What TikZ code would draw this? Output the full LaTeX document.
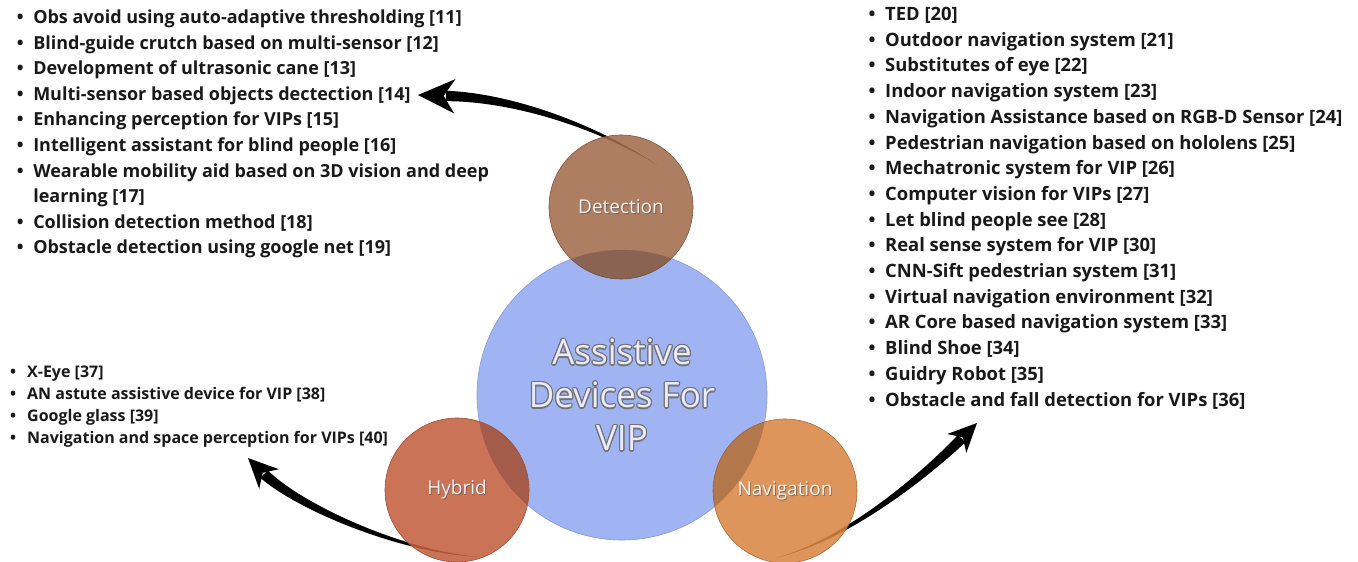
\documentclass[tikz,border=0pt]{standalone}
\usepackage{fontspec}
\setmainfont{Open Sans}
\usetikzlibrary{calc}
\definecolor{maincol}{RGB}{160,180,244}
\definecolor{detcol}{RGB}{163,108,76}
\definecolor{hybcol}{RGB}{196,96,64}
\definecolor{navcol}{RGB}{216,134,68}
\definecolor{txtcol}{RGB}{25,25,25}
\tikzset{
  listbox/.style={anchor=north west, inner sep=0pt, text=txtcol, font=\bfseries},
  smallcirc/.style={circle, minimum size=144pt, inner sep=0pt, draw=#1!80!black, line width=0.6pt, fill=#1, fill opacity=0.88},
  lbl/.style={text=white!90!gray, font=\fontsize{19}{21}\selectfont},
  lblshadow/.style={text=black!70, font=\fontsize{19}{21}\selectfont, opacity=0.6},
  maintxt/.style={align=center, font=\fontsize{35}{43}\selectfont},
  tapered/.style={fill=black}
}
\newcommand{\tarrow}[5]{%
  \fill[tapered] (#1) .. controls ($(#2)!1.7pt!90:(#3)$) and ($(#3)!4pt!90:(#4)$) .. ($(#4)!5.2pt!90:(#5)$)
     -- ($(#4)!5.2pt!-90:(#5)$) .. controls ($(#3)!4pt!-90:(#4)$) and ($(#2)!1.7pt!-90:(#3)$) .. (#1) -- cycle;
  \fill[tapered] (#5) -- ($(#5)!1.45!25:(#4)$) -- ($(#5)!0.92!(#4)$) -- ($(#5)!1.45!-25:(#4)$) -- cycle;
}
\begin{document}
\begin{tikzpicture}[x=1pt,y=-1pt]
\useasboundingbox (0,0) rectangle (1358,562);
% arrow coordinates
\coordinate (dT) at (657,165); \coordinate (dA) at (595,125); \coordinate (dB) at (510,97);
\coordinate (dE) at (446,96); \coordinate (dP) at (418,95);
\coordinate (hT) at (480,557); \coordinate (hA) at (400,552); \coordinate (hB) at (298,506);
\coordinate (hE) at (264,474); \coordinate (hP) at (248,458);
\coordinate (nT) at (775,558); \coordinate (nA) at (850,540); \coordinate (nB) at (933.6,467);
\coordinate (nE) at (961.6,438.6); \coordinate (nP) at (977,423);
\tarrow{dT}{dA}{dB}{dE}{dP}
\tarrow{hT}{hA}{hB}{hE}{hP}
\tarrow{nT}{nA}{nB}{nE}{nP}
% circles
\node[circle, minimum size=290pt, inner sep=0pt, fill=maincol, draw=maincol!85!black, line width=0.6pt] (main) at (622,395) {};
\node[smallcirc=detcol] (det) at (621,207) {};
\node[smallcirc=hybcol] (hyb) at (457,490) {};
\node[smallcirc=navcol] (nav) at (785,491) {};
\begin{scope}
  \clip (622,395) circle (145pt);
  \fill[black, opacity=0.14] (621,207) circle (72pt);
  \fill[black, opacity=0.14] (457,490) circle (71.5pt);
  \fill[black, opacity=0.14] (785,491) circle (72pt);
\end{scope}
% labels
\node[lblshadow] at ($(det)+(0.9,0.9)$) {Detection};
\node[lbl] (detl) at (det) {Detection};
\node[lblshadow] at ($(hyb)+(0.9,0.9)$) {Hybrid};
\node[lbl] (hybl) at (hyb) {Hybrid};
\node[lblshadow] at ($(nav)+(0.9,0.9)$) {Navigation};
\node[lbl] (navl) at (nav) {Navigation};
% main text with outline
\foreach \a in {0,30,...,330}{
  \node[maintxt, text=black!55] at ($(622,395)+(\a:1.2)$) {Assistive\\Devices For\\VIP};
}
\node[maintxt, text=white!92!blue] (mainl) at (622,395) {Assistive\\Devices For\\VIP};
% lists
\node[listbox, font=\bfseries\fontsize{18}{25.6}\selectfont] (L1) at (16.7,5.4) {%
\begin{tabular}{@{}l@{\hspace{9.6pt}}l@{}}
• & Obs avoid using auto-adaptive thresholding [11]\\
• & Blind-guide crutch based on multi-sensor [12]\\
• & Development of ultrasonic cane [13]\\
• & Multi-sensor based objects dectection [14]\\
• & Enhancing perception for VIPs [15]\\
• & Intelligent assistant for blind people [16]\\
• & Wearable mobility aid based on 3D vision and deep\\
  & learning [17]\\
• & Collision detection method [18]\\
• & Obstacle detection using google net [19]
\end{tabular}};
\node[listbox, font=\bfseries\fontsize{18.4}{25.7}\selectfont] (L2) at (868.5,2.4) {%
\begin{tabular}{@{}l@{\hspace{9.6pt}}l@{}}
• & TED [20]\\
• & Outdoor navigation system [21]\\
• & Substitutes of eye [22]\\
• & Indoor navigation system [23]\\
• & Navigation Assistance based on RGB-D Sensor [24]\\
• & Pedestrian navigation based on hololens [25]\\
• & Mechatronic system for VIP [26]\\
• & Computer vision for VIPs [27]\\
• & Let blind people see [28]\\
• & Real sense system for VIP [30]\\
• & CNN-Sift pedestrian system [31]\\
• & Virtual navigation environment [32]\\
• & AR Core based navigation system [33]\\
• & Blind Shoe [34]\\
• & Guidry Robot [35]\\
• & Obstacle and fall detection for VIPs [36]
\end{tabular}};
\node[listbox, font=\bfseries\fontsize{16}{22}\selectfont] (L3) at (10,362) {%
\begin{tabular}{@{}l@{\hspace{11pt}}l@{}}
• & X-Eye [37]\\
• & AN astute assistive device for VIP [38]\\
• & Google glass [39]\\
• & Navigation and space perception for VIPs [40]
\end{tabular}};
\end{tikzpicture}
\end{document}
